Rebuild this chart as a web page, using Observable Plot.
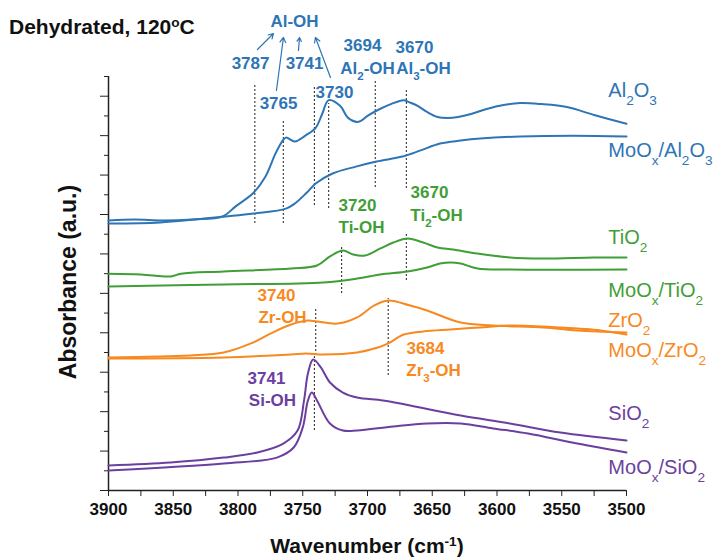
<!DOCTYPE html>
<html>
<head>
<meta charset="utf-8">
<script src="https://cdn.jsdelivr.net/npm/d3@7"></script>
<script src="https://cdn.jsdelivr.net/npm/@observablehq/plot@0.6"></script>
<style>
  body { margin: 0; background: #fff; }
  #wrap { position: relative; width: 720px; height: 558px; font-family: "Liberation Sans", Arial, sans-serif; }
  .ttl { position: absolute; font-weight: bold; color: #111; white-space: nowrap; line-height: 1; }
  #title { left: 9px; top: 16px; font-size: 21px; }
  #xtitle { left: 108px; width: 518px; text-align: center; top: 535px; font-size: 21px; }
  #ytitle { left: 68px; top: 282px; font-size: 23px; transform: translate(-50%, -50%) rotate(-90deg); }
  sup { font-size: 65%; vertical-align: 0.55em; line-height: 0; }
</style>
</head>
<body>
<div id="wrap">
  <div id="title" class="ttl">Dehydrated, 120<sup>o</sup>C</div>
  <div id="xtitle" class="ttl">Wavenumber (cm<sup>-1</sup>)</div>
  <div id="ytitle" class="ttl">Absorbance (a.u.)</div>
</div>
<script>
// IR spectra of dehydrated supports (120 °C), offset vertically; [wavenumber, absorbance]
const al2o3 = [[3900,1.37],[3880,1.375],[3858,1.37],[3835,1.375],[3812,1.39],[3802,1.44],[3788,1.51],[3779,1.59],[3771,1.71],[3766,1.77],[3763,1.79],[3756,1.77],[3748,1.80],[3740,1.84],[3735,1.91],[3730,1.98],[3721,1.95],[3715,1.89],[3707,1.87],[3700,1.90],[3692,1.93],[3682,1.96],[3672,1.98],[3668,1.97],[3661,1.95],[3654,1.92],[3646,1.895],[3638,1.89],[3630,1.895],[3620,1.91],[3608,1.935],[3595,1.955],[3582,1.965],[3566,1.96],[3546,1.945],[3525,1.905],[3500,1.86]];
const moAl2o3 = [[3900,1.354],[3860,1.36],[3833,1.375],[3788,1.405],[3763,1.43],[3756,1.456],[3747,1.51],[3740,1.557],[3727,1.608],[3709,1.643],[3693,1.669],[3673,1.694],[3659,1.725],[3644,1.76],[3628,1.775],[3613,1.785],[3582,1.796],[3541,1.80],[3500,1.796]];
const tio2 = [[3900,1.10],[3875,1.096],[3852,1.086],[3844,1.10],[3811,1.111],[3759,1.126],[3739,1.141],[3729,1.187],[3719,1.217],[3711,1.197],[3702,1.192],[3690,1.228],[3680,1.258],[3669,1.278],[3657,1.258],[3646,1.233],[3634,1.222],[3615,1.202],[3590,1.182],[3564,1.177],[3525,1.182],[3500,1.182]];
const moTio2 = [[3900,1.035],[3811,1.045],[3734,1.055],[3708,1.075],[3690,1.096],[3669,1.111],[3654,1.131],[3644,1.151],[3636,1.157],[3628,1.151],[3615,1.126],[3590,1.121],[3500,1.121]];
const zro2 = [[3900,0.675],[3837,0.685],[3811,0.70],[3790,0.746],[3775,0.796],[3759,0.842],[3746,0.862],[3739,0.857],[3723,0.847],[3708,0.878],[3695,0.938],[3684,0.964],[3667,0.938],[3654,0.913],[3628,0.852],[3603,0.837],[3564,0.827],[3538,0.812],[3500,0.801]];
const moZro2 = [[3900,0.67],[3811,0.675],[3759,0.69],[3748,0.695],[3734,0.69],[3708,0.70],[3692,0.725],[3684,0.746],[3672,0.791],[3657,0.807],[3636,0.817],[3613,0.827],[3590,0.837],[3551,0.827],[3520,0.812],[3500,0.791]];
const sio2 = [[3900,0.127],[3852,0.142],[3811,0.167],[3785,0.193],[3765,0.238],[3754,0.304],[3749,0.457],[3746,0.593],[3742,0.665],[3736,0.624],[3729,0.548],[3719,0.497],[3708,0.472],[3688,0.457],[3667,0.431],[3628,0.38],[3590,0.34],[3551,0.294],[3500,0.254]];
const moSio2 = [[3900,0.101],[3811,0.137],[3770,0.167],[3757,0.218],[3750,0.32],[3746,0.457],[3743,0.497],[3739,0.457],[3729,0.34],[3719,0.304],[3708,0.304],[3680,0.325],[3654,0.34],[3628,0.34],[3603,0.315],[3576,0.289],[3538,0.238],[3500,0.193]];

const BLUE = "#2e75b6", GREEN = "#3f9e36", ORANGE = "#f7891f", PURPLE = "#6b3fa0";

// Spectrum name, colour, data and the height of its name tag at the right
const series = [
  {name: "Al_{2}O_{3}", color: BLUE, data: al2o3, tagY: 2.03},
  {name: "MoO_{x}/Al_{2}O_{3}", color: BLUE, data: moAl2o3, tagY: 1.725},
  {name: "TiO_{2}", color: GREEN, data: tio2, tagY: 1.283},
  {name: "MoO_{x}/TiO_{2}", color: GREEN, data: moTio2, tagY: 1.014},
  {name: "ZrO_{2}", color: ORANGE, data: zro2, tagY: 0.862},
  {name: "MoO_{x}/ZrO_{2}", color: ORANGE, data: moZro2, tagY: 0.71},
  {name: "SiO_{2}", color: PURPLE, data: sio2, tagY: 0.39},
  {name: "MoO_{x}/SiO_{2}", color: PURPLE, data: moSio2, tagY: 0.117}
];
const tagWn = 3514;

// Hydroxyl band positions (dotted markers) and their vertical extent
const bands = [
  {wn: 3787, a1: 1.354, a2: 2.064}, {wn: 3765, a1: 1.354, a2: 1.877},
  {wn: 3741, a1: 1.446, a2: 2.044}, {wn: 3730, a1: 1.43, a2: 1.963},
  {wn: 3694, a1: 1.537, a2: 2.08}, {wn: 3670, a1: 1.532, a2: 2.039},
  {wn: 3720, a1: 0.999, a2: 1.243}, {wn: 3670, a1: 1.065, a2: 1.304},
  {wn: 3740, a1: 0.685, a2: 0.928}, {wn: 3684, a1: 0.583, a2: 0.974},
  {wn: 3741, a1: 0.304, a2: 0.68}
];

// Band annotations
const bandLabels = [
  {wn: 3756.4, a: 2.379, text: "Al-OH", color: BLUE},
  {wn: 3790.3, a: 2.166, text: "3787", color: BLUE},
  {wn: 3748.6, a: 2.166, text: "3741", color: BLUE},
  {wn: 3768.7, a: 1.963, text: "3765", color: BLUE},
  {wn: 3725.5, a: 2.019, text: "3730", color: BLUE},
  {wn: 3703.9, a: 2.257, text: "3694", color: BLUE},
  {wn: 3700.0, a: 2.141, text: "Al_{2}-OH", color: BLUE},
  {wn: 3663.7, a: 2.247, text: "3670", color: BLUE},
  {wn: 3656.8, a: 2.141, text: "Al_{3}-OH", color: BLUE},
  {wn: 3707.7, a: 1.446, text: "3720", color: GREEN},
  {wn: 3704.6, a: 1.334, text: "Ti-OH", color: GREEN},
  {wn: 3652.1, a: 1.512, text: "3670", color: GREEN},
  {wn: 3646.7, a: 1.395, text: "Ti_{2}-OH", color: GREEN},
  {wn: 3770.3, a: 0.989, text: "3740", color: ORANGE},
  {wn: 3765.6, a: 0.878, text: "Zr-OH", color: ORANGE},
  {wn: 3655.2, a: 0.72, text: "3684", color: ORANGE},
  {wn: 3649.0, a: 0.609, text: "Zr_{3}-OH", color: ORANGE},
  {wn: 3778.0, a: 0.568, text: "3741", color: PURPLE},
  {wn: 3773.4, a: 0.457, text: "Si-OH", color: PURPLE}
];

// Pointers from the Al-OH heading to its four bands
const alPointers = [
  {wn1: 3785.0, a1: 2.237, wn2: 3772.6, a2: 2.318},
  {wn1: 3770.3, a1: 2.029, wn2: 3764.9, a2: 2.298},
  {wn1: 3753.3, a1: 2.232, wn2: 3752.5, a2: 2.298},
  {wn1: 3728.6, a1: 2.095, wn2: 3740.2, a2: 2.298}
];

const xTicks = d3.range(3500, 3901, 25);
const yMajor = d3.range(0, 21, 2).map(i => i / 10);
const yMinor = d3.range(1, 22, 2).map(i => i / 10);

const chart = Plot.plot({
  width: 720,
  height: 558,
  marginLeft: 108,
  marginRight: 94,
  marginTop: 76,
  marginBottom: 68,
  style: {fontFamily: "'Liberation Sans', Arial, sans-serif", fontSize: "17px", background: "transparent", overflow: "visible"},
  x: {domain: [3900, 3500]},
  y: {domain: [0, 2.1]},
  color: {type: "identity"},
  marks: [
    Plot.axisX(xTicks, {tickSize: 6, tickPadding: 6, tickFormat: d => d % 50 ? "" : String(d), fontWeight: "bold", fontSize: 17, fill: "#111", stroke: "#222", label: null}),
    Plot.axisY(yMajor, {tickSize: 8, tickFormat: () => "", stroke: "#222", label: null}),
    Plot.axisY(yMinor, {tickSize: 4, tickFormat: () => "", stroke: "#222", label: null}),
    Plot.ruleY([0], {stroke: "#222", strokeWidth: 1.5}),
    Plot.ruleX([3900], {y1: 0, y2: 2.1, stroke: "#222", strokeWidth: 1.5}),
    Plot.ruleX(bands, {x: "wn", y1: "a1", y2: "a2", stroke: "#333", strokeWidth: 1.1, strokeDasharray: "2,2"}),
    ...series.map(s => Plot.line(s.data, {x: d => d[0], y: d => d[1], stroke: s.color, strokeWidth: 2, curve: "catmull-rom"})),
    Plot.arrow(alPointers, {x1: "wn1", y1: "a1", x2: "wn2", y2: "a2", stroke: BLUE, strokeWidth: 1.2, headLength: 7}),
    Plot.text(bandLabels, {x: "wn", y: "a", text: "text", fill: "color", fontWeight: "bold", fontSize: 17}),
    Plot.text(series, {x: () => tagWn, y: "tagY", text: "name", fill: "color", textAnchor: "start", fontSize: 20})
  ]
});

// Turn _{..} and ^{..} markup into sub/superscript spans
function richText(svg) {
  svg.querySelectorAll("text").forEach(t => {
    const s = t.textContent;
    if (!/[_^]\{/.test(s) || t.querySelector("tspan")) return;
    t.textContent = "";
    const re = /([_^])\{([^}]*)\}/g;
    let last = 0, m;
    const add = (txt, shift) => {
      const ts = document.createElementNS("http://www.w3.org/2000/svg", "tspan");
      ts.textContent = txt;
      if (shift) {
        ts.setAttribute("baseline-shift", shift);
        ts.style.fontSize = "0.68em";
      }
      t.appendChild(ts);
    };
    while ((m = re.exec(s))) {
      if (m.index > last) add(s.slice(last, m.index));
      add(m[2], m[1] === "_" ? "sub" : "super");
      last = re.lastIndex;
    }
    if (last < s.length) add(s.slice(last));
  });
}
richText(chart);
document.getElementById("wrap").prepend(chart);
</script>
</body>
</html>
